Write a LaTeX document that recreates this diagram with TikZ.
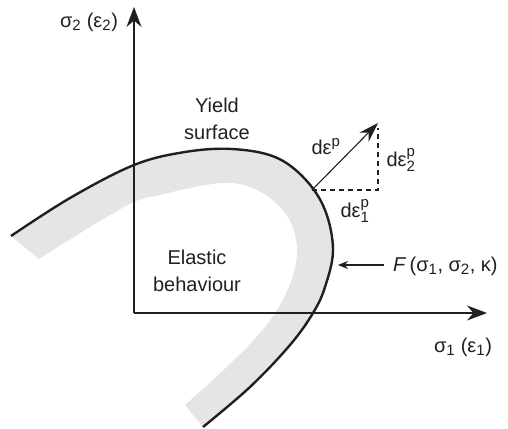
\documentclass[tikz,border=0pt]{standalone}
\usepackage{fontspec}
\setmainfont{Liberation Sans}
\usetikzlibrary{arrows.meta}
\definecolor{band}{RGB}{228,229,231}
\definecolor{ink}{RGB}{35,31,32}
\newcommand\bigtxt{\fontsize{20}{27}\selectfont}
\newcommand\smalltxt{\fontsize{15}{15}\selectfont}
\newcommand\ssc[2]{$^{\hbox{\smalltxt #1}}_{\hbox{\smalltxt #2}}$}
\newcommand\sub[1]{$_{\hbox{\smalltxt #1}}$}
\begin{document}
\begin{tikzpicture}[x=1pt,y=-1pt,
  lbl/.style={font=\bigtxt,text=ink,inner sep=0pt},
  axis/.style={draw=ink,line width=1.3pt,-{Stealth[length=20pt,width=15pt]}},
  thinarrow/.style={draw=ink,line width=1.1pt,-{Stealth[length=20pt,width=13pt]}},
  farrow/.style={draw=ink,line width=1.1pt,-{Stealth[length=10pt,width=8pt]}},
  dashline/.style={draw=ink,line width=1.3pt,dash pattern=on 5pt off 4pt}]
\useasboundingbox (0,0) rectangle (508,428);
% band
\fill[band] plot[smooth,tension=0.6] coordinates {(11,236) (70,198) (134,165) (185,152) (232,149) (275,157) (305,179) (325,210) (333,250) (325,287) (313,313) (290,345) (250,387) (203,427)}
  -- plot[smooth,tension=0.6] coordinates {(185,405) (230,364) (260,333) (280,305) (293,275) (297,250) (292,225) (280,207) (259,191) (232,183) (200,186) (160,195) (134,202) (90,227) (39,259)} -- cycle;
% axes
\coordinate (O) at (134,313);
\coordinate (ytip) at (134,7);
\coordinate (xtip) at (487,313);
\draw[axis] (O) -- (ytip);
\draw[axis] (O) -- (xtip);
% yield curve
\draw[ink,line width=2.4pt] plot[smooth,tension=0.6] coordinates {(11,236) (70,198) (134,165) (185,152) (232,149) (275,157) (305,179) (325,210) (333,250) (325,287) (313,313) (290,345) (250,387) (203,427)};
% plastic strain vector
\coordinate (vs) at (312,190);
\coordinate (ve) at (378,123);
\coordinate (vc) at (378,190);
\coordinate (vtop) at (378,128);
\draw[dashline] (vs) -- (vc) -- (vtop);
\draw[thinarrow] (vs) -- (ve);
% F arrow
\coordinate (fs) at (384,265);
\coordinate (fe) at (338,265);
\draw[farrow] (fs) -- (fe);
% labels
\node[lbl] (ylab) at (89,22) {σ\sub{2} (ε\sub{2})};
\node[lbl] (xlab) at (463,347) {σ\sub{1} (ε\sub{1})};
\node[lbl,align=center] (yield) at (217,119) {Yield\\surface};
\node[lbl,align=center] (elastic) at (197,271) {Elastic\\behaviour};
\node[lbl,anchor=west] (flab) at (393,266) {\textit{F}\,(σ\sub{1}, σ\sub{2}, κ)};
\node[lbl] (dep) at (326,149) {dε\ssc{p}{}};
\node[lbl] (de2) at (401,160) {dε\ssc{p}{2}};
\node[lbl] (de1) at (355,211) {dε\ssc{p}{1}};
\end{tikzpicture}
\end{document}
